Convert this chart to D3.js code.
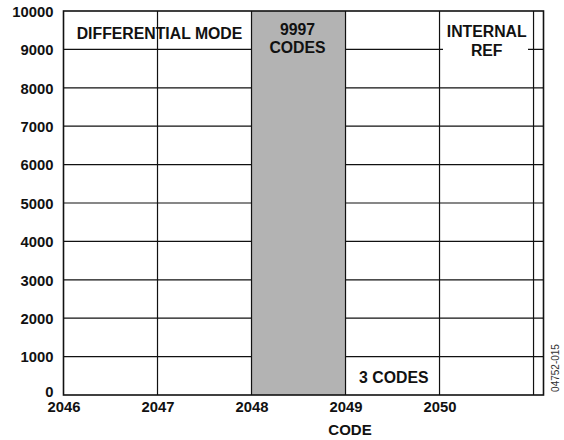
<!DOCTYPE html>
<html>
<head>
<meta charset="utf-8">
<script src="https://cdn.jsdelivr.net/npm/d3@7"></script>
<style>
  body { margin: 0; background: #fff; }
  text { font-family: "Liberation Sans", Arial, sans-serif; font-weight: bold; fill: #111; }
</style>
</head>
<body>
<svg id="chart" width="564" height="440"></svg>
<script>
// histogram of output codes
var codes = [2046, 2047, 2048, 2049, 2050];
var hits = [0, 0, 9997, 3, 0];
var xTicks = [2046, 2047, 2048, 2049, 2050];
var xGrid = [2047, 2048, 2049, 2050, 2051];
var yTicks = [0, 1000, 2000, 3000, 4000, 5000, 6000, 7000, 8000, 9000, 10000];

var margin = { left: 63.5, right: 20.5, top: 11, bottom: 45 };
var W = 564, H = 440;

var svg = d3.select('#chart');

var x = d3.scaleLinear()
    .domain([2046, 2051.106])
    .range([margin.left, W - margin.right]);

var y = d3.scaleLinear()
    .domain([0, 10000])
    .range([H - margin.bottom, margin.top]);

// horizontal grid (under the bars)
svg.append('g')
    .selectAll('line')
    .data(yTicks.slice(1, -1))
    .enter()
    .append('line')
    .attr('x1', x.range()[0]).attr('x2', x.range()[1])
    .attr('y1', function (d) { return y(d); })
    .attr('y2', function (d) { return y(d); })
    .attr('stroke', '#111').attr('stroke-width', 1.2);

// bars
svg.append('g')
    .selectAll('rect')
    .data(codes)
    .enter()
    .append('rect')
    .attr('x', function (d) { return x(d); })
    .attr('width', function (d) { return x(d + 1) - x(d); })
    .attr('y', function (d, i) { return y(hits[i]); })
    .attr('height', function (d, i) { return y(0) - y(hits[i]); })
    .attr('fill', '#b3b3b3');

// vertical grid
svg.append('g')
    .selectAll('line')
    .data(xGrid)
    .enter()
    .append('line')
    .attr('x1', function (d) { return x(d); })
    .attr('x2', function (d) { return x(d); })
    .attr('y1', y(0)).attr('y2', y(10000))
    .attr('stroke', '#111').attr('stroke-width', 1.2);

// frame
svg.append('rect')
    .attr('x', x.range()[0]).attr('y', y(10000))
    .attr('width', x.range()[1] - x.range()[0])
    .attr('height', y(0) - y(10000))
    .attr('fill', 'none')
    .attr('stroke', '#111').attr('stroke-width', 1.6);

// axes (labels only)
var yAxis = d3.axisLeft(y).tickValues(yTicks).tickSize(0).tickPadding(10).tickFormat(d3.format('d'));
var gy = svg.append('g').attr('transform', 'translate(' + x.range()[0] + ',0)').call(yAxis);
gy.select('.domain').remove();
gy.selectAll('text')
    .style('font-size', '14.8px')
    .attr('dy', function (d) { return d === 0 ? '0.1em' : '0.36em'; });

var xAxis = d3.axisBottom(x).tickValues(xTicks).tickSize(0).tickPadding(6).tickFormat(d3.format('d'));
var gx = svg.append('g').attr('transform', 'translate(0,' + y(0) + ')').call(xAxis);
gx.select('.domain').remove();
gx.selectAll('text').style('font-size', '14.8px');

svg.append('text')
    .attr('x', 350).attr('y', 435)
    .attr('text-anchor', 'middle')
    .style('font-size', '15px')
    .text('CODE');

// annotations
svg.append('text')
    .attr('x', 159.5).attr('y', 39.3)
    .attr('text-anchor', 'middle')
    .style('font-size', '15.8px')
    .text('DIFFERENTIAL MODE');

var midBar = (x(2048) + x(2049)) / 2 - 1;
svg.append('text').attr('x', midBar).attr('y', 34.5)
    .attr('text-anchor', 'middle').style('font-size', '15.8px').text('9997');
svg.append('text').attr('x', midBar).attr('y', 52.7)
    .attr('text-anchor', 'middle').style('font-size', '15.8px').text('CODES');

svg.append('rect')
    .attr('x', 443).attr('y', 40)
    .attr('width', 85).attr('height', 18)
    .attr('fill', '#fff');
svg.append('text').attr('x', 486.7).attr('y', 37.3)
    .attr('text-anchor', 'middle').style('font-size', '15.8px').text('INTERNAL');
svg.append('text').attr('x', 486.7).attr('y', 55.7)
    .attr('text-anchor', 'middle').style('font-size', '15.8px').text('REF');

svg.append('text').attr('x', 393.8).attr('y', 382.7)
    .attr('text-anchor', 'middle').style('font-size', '15.8px').text('3 CODES');

svg.append('text')
    .attr('transform', 'translate(558.5,368) rotate(-90)')
    .attr('text-anchor', 'middle')
    .style('font-size', '10px').style('font-weight', 'normal').style('fill', '#333')
    .text('04752-015');
</script>
</body>
</html>
